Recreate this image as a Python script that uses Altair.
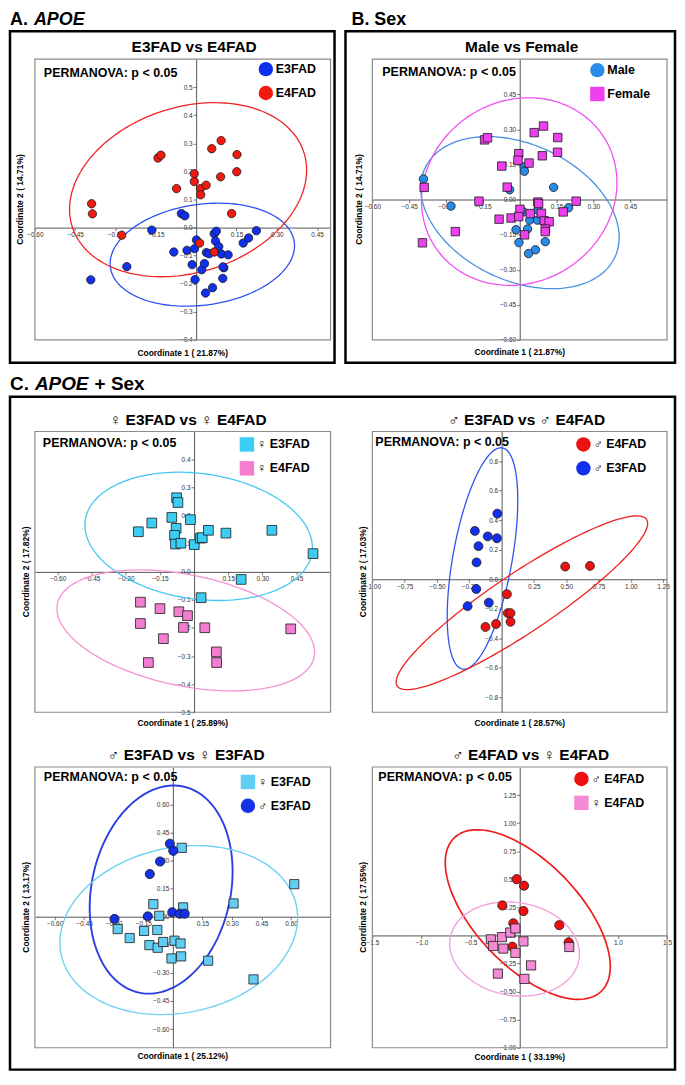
import math
import altair as alt
import pandas as pd

FONT = "Liberation Sans"

# ---------------- Panel A : APOE ----------------
A_E3_X = [-0.392, -0.258, -0.165, -0.083, -0.055, -0.042, -0.034, -0.006, 0.001, -0.015,
          -0.004, 0.021, 0.031, 0.038, 0.048, 0.067, 0.075, 0.072, 0.084, 0.094,
          0.103, 0.100, 0.099, 0.119, 0.035, 0.061, 0.175, 0.195, 0.224]
A_E3_Y = [-0.186, -0.139, -0.009, -0.087, 0.050, 0.042, -0.081, -0.075, -0.044, -0.132,
          -0.185, -0.150, -0.128, -0.089, -0.093, -0.022, -0.013, -0.048, -0.068, -0.094,
          -0.143, -0.140, -0.181, -0.097, -0.233, -0.214, -0.055, -0.037, -0.011]
A_E4_X = [-0.389, -0.386, -0.277, -0.142, -0.131, -0.073, -0.007, -0.007, 0.016, 0.037,
          0.017, 0.058, 0.093, 0.091, 0.152, 0.151, 0.132, 0.013, 0.067]
A_E4_Y = [0.085, 0.049, -0.027, 0.248, 0.258, 0.139, 0.192, 0.164, 0.139, 0.151,
          0.117, 0.281, 0.310, 0.181, 0.260, 0.199, 0.050, -0.055, -0.087]
A_ELL_E3 = [0.023, 0.343, -0.0965, 0.1835, 80]
A_ELL_E4 = [-0.030, 0.441, 0.135, 0.310, 77]

# ---------------- Panel B : Sex ----------------
B_M_X = [-0.392, -0.280, -0.041, 0.018, 0.019, 0.138, 0.199, 0.016, 0.074, 0.041,
         0.072, -0.015, 0.032, -0.003, 0.104, 0.064, 0.036]
B_M_Y = [0.088, -0.028, 0.042, 0.140, 0.121, 0.052, -0.035, -0.053, -0.045, -0.088,
         -0.088, -0.129, -0.126, -0.184, -0.180, -0.215, -0.231]
B_F_X = [-0.396, -0.389, -0.262, -0.166, -0.143, -0.131, -0.073, -0.051, -0.084, -0.035,
         -0.004, -0.007, 0.038, 0.059, 0.097, 0.092, 0.155, 0.154, 0.001, -0.004,
         0.043, 0.074, 0.077, 0.088, 0.100, 0.120, 0.105, 0.104, 0.020, 0.177, 0.230]
B_F_Y = [-0.185, 0.052, -0.137, -0.007, 0.255, 0.264, 0.143, 0.053, -0.084, -0.079,
         0.196, 0.168, 0.156, 0.286, 0.314, 0.187, 0.265, 0.202, -0.042, -0.073,
         -0.060, -0.011, -0.017, -0.059, -0.091, -0.095, -0.126, -0.137, -0.151, -0.053, -0.007]
B_ELL_M = [0.001, 0.404, -0.056, 0.325, 109]
B_ELL_F = [-0.002, 0.398, 0.034, 0.401, 84.5]

# ---------------- Panel C1 : female E3 vs female E4 ----------------
C1_E3_X = [-0.245, -0.186, -0.098, -0.077, -0.071, -0.016, -0.079, -0.086, -0.082, -0.058,
           0.001, 0.028, 0.036, 0.063, 0.140, 0.342, 0.523, 0.207, 0.031]
C1_E3_Y = [0.143, 0.174, 0.194, 0.264, 0.247, 0.186, 0.155, 0.130, 0.099, 0.102,
           0.097, 0.120, 0.122, 0.148, 0.138, 0.148, 0.065, -0.027, -0.092]
C1_E4_X = [-0.236, -0.150, -0.067, -0.029, -0.236, -0.047, 0.047, -0.135, -0.201, 0.098, 0.099, 0.425]
C1_E4_Y = [-0.108, -0.131, -0.142, -0.156, -0.184, -0.198, -0.199, -0.238, -0.323, -0.285, -0.323, -0.203]
C1_ELL_E3 = [0.020, 0.500, 0.1265, 0.2285, 100]
C1_ELL_E4 = [-0.0365, 0.5665, -0.2085, 0.2155, 111]

# ---------------- Panel C2 : male E3 vs male E4 ----------------
C2_E3_X = [-0.033, -0.207, -0.179, -0.107, -0.036, -0.194, -0.196, -0.263, -0.099]
C2_E3_Y = [0.444, 0.327, 0.224, 0.290, 0.277, 0.114, -0.066, -0.182, -0.158]
C2_E4_X = [0.492, 0.684, 0.041, 0.048, 0.069, 0.069, -0.125, -0.043]
C2_E4_Y = [0.086, 0.090, -0.101, -0.229, -0.229, -0.288, -0.323, -0.303]
C2_ELL_E3 = [-0.148, 0.273, 0.1405, 0.7495, 58.4]
C2_ELL_E4 = [0.157, 0.973, -0.159, 0.588, 24]

# ---------------- Panel C3 : male E3 vs female E3 ----------------
C3_M_X = [-0.015, 0.002, -0.065, -0.117, -0.296, -0.127, -0.003, 0.035, 0.060]
C3_M_Y = [0.390, 0.352, 0.295, 0.228, -0.012, 0.002, 0.024, 0.016, 0.016]
C3_F_X = [0.045, 0.616, 0.308, -0.099, -0.069, 0.052, -0.280, -0.219, -0.146, -0.079,
          -0.119, -0.077, -0.049, 0.008, 0.039, -0.007, 0.042, 0.179, 0.409]
C3_F_Y = [0.368, 0.174, 0.071, 0.067, 0.005, 0.050, -0.066, -0.114, -0.076, -0.071,
          -0.152, -0.166, -0.135, -0.128, -0.143, -0.223, -0.212, -0.235, -0.335]
C3_ELL_M = [-0.0595, 0.3625, 0.145, 0.556, 80]
C3_ELL_F = [0.030, 0.603, -0.0715, 0.4515, 81.5]

# ---------------- Panel C4 : male E4 vs female E4 ----------------
C4_M_X = [-0.031, 0.044, -0.177, 0.038, -0.065, 0.403, 0.498, -0.075]
C4_M_Y = [0.501, 0.443, 0.267, 0.217, 0.108, 0.091, -0.062, -0.100]
C4_F_X = [-0.294, -0.181, -0.096, -0.044, -0.270, -0.167, -0.044, 0.038, 0.505, 0.116, -0.222, 0.048]
C4_F_Y = [-0.035, -0.015, 0.026, 0.062, -0.094, -0.117, -0.155, -0.053, -0.103, -0.267, -0.340, -0.387]
C4_ELL_M = [0.082, 0.840, 0.186, 0.755, 127.8]
C4_ELL_F = [-0.0525, 0.6605, -0.1205, 0.4195, 96.4]

ONE = pd.DataFrame({"k": [0]})


def ellipse_frame(p, n=160):
    cx, ax, cy, ay, dd = p
    d = math.radians(dd)
    return pd.DataFrame({
        "x": [cx + ax * math.cos(2 * math.pi * i / n) for i in range(n + 1)],
        "y": [cy + ay * math.cos(2 * math.pi * i / n + d) for i in range(n + 1)],
        "o": list(range(n + 1)),
    })


def txt(s, x, y, size, weight="bold", align="left", angle=0, style="normal",
        baseline="alphabetic", color="black"):
    kw = dict(text=s, align=align, baseline=baseline, font=FONT, fontSize=size,
              fontWeight=weight, color=color, fontStyle=style)
    if angle:
        kw["angle"] = angle
    return alt.Chart(ONE).mark_text(**kw).encode(x=alt.value(x), y=alt.value(y))


def box(x1, x2, y1, y2, color, width):
    return alt.Chart(ONE).mark_rect(fillOpacity=0, stroke=color, strokeWidth=width).encode(
        x=alt.value(x1), x2=alt.value(x2), y=alt.value(y1), y2=alt.value(y2))


def panel(groups, ellipses, xdom, ydom, xticks, yticks, xfmt, yfmt, W, H, cellH,
          title, title_cx, xtitle, xtitle_dy, ytitle, ytitle_x, leg, perm, size, extras):
    labels = [g[0] for g in groups]
    rows = []
    for lab, xs, ys, col, shp in groups:
        for a, b in zip(xs, ys):
            rows.append({"x": a, "y": b, "g": lab})
    df = pd.DataFrame(rows)
    xs_ = alt.Scale(domain=xdom, nice=False, zero=False)
    ys_ = alt.Scale(domain=ydom, nice=False, zero=False, range=[H, 0])
    x0 = W * (0 - xdom[0]) / (xdom[1] - xdom[0])
    y0 = H * (ydom[1] - 0) / (ydom[1] - ydom[0])
    common = dict(title=None, grid=False, labelFont=FONT, labelFontSize=6.5, labelColor="#333",
                  tickColor="#555", tickSize=3, tickWidth=0.8, domainColor="#555", domainWidth=1,
                  labelFlush=False, labelOverlap=False, labelPadding=1)
    xaxis = alt.Axis(values=xticks, format=xfmt, offset=-(cellH - y0), **common)
    yaxis = alt.Axis(values=yticks, format=yfmt, offset=-x0, **common)
    legend = alt.Legend(orient="none", legendX=leg[0], legendY=leg[1], title=None,
                        labelFont=FONT, labelFontSize=12.5, labelFontWeight="bold",
                        labelColor="black", symbolSize=210, symbolStrokeColor="#1a1a1a",
                        symbolStrokeWidth=1, symbolOpacity=1, rowPadding=4, labelOffset=2,
                        padding=0)
    layers = [box(0, W, 0, H, "#8c8c8c", 1.2)]
    for p, col, sw in ellipses:
        layers.append(alt.Chart(ellipse_frame(p)).mark_line(color=col, strokeWidth=sw).encode(
            x=alt.X("x:Q", scale=xs_, axis=xaxis),
            y=alt.Y("y:Q", scale=ys_, axis=yaxis),
            order=alt.Order("o:Q")))
    pts = alt.Chart(df).mark_point(filled=True, opacity=1, stroke="#1a1a1a", strokeWidth=0.8,
                                   size=size).encode(
        x=alt.X("x:Q", scale=xs_, axis=xaxis),
        y=alt.Y("y:Q", scale=ys_, axis=yaxis),
        color=alt.Color("g:N", scale=alt.Scale(domain=labels, range=[g[3] for g in groups]),
                        legend=legend),
        shape=alt.Shape("g:N", scale=alt.Scale(domain=labels, range=[g[4] for g in groups]),
                        legend=legend),
    )
    layers.append(pts)
    layers.append(txt("PERMANOVA: p < 0.05", perm[0], perm[1], 12.5))
    layers.append(txt(title, title_cx, -7, 15.5, align="center"))
    layers.append(txt(xtitle, W / 2, H + xtitle_dy, 8.5, align="center"))
    layers.append(txt(ytitle, ytitle_x, H / 2, 8.5, align="center", angle=270, baseline="middle"))
    layers += extras
    return alt.layer(*layers).properties(width=W, height=cellH)


H1, CELL1 = 282, 319
H2 = 282
WL, WR = 297, 296

pA = panel(
    [("E3FAD", A_E3_X, A_E3_Y, "#1030f0", "circle"), ("E4FAD", A_E4_X, A_E4_Y, "#f01a10", "circle")],
    [(A_ELL_E3, "#2c52f0", 1.3), (A_ELL_E4, "#f02424", 1.3)],
    [-0.6, 0.5], [-0.4, 0.6],
    [-0.6, -0.45, -0.3, -0.15, 0.15, 0.3, 0.45], [0.5, 0.4, 0.3, 0.2, 0.1, 0.0, -0.1, -0.2, -0.3, -0.4],
    ".2f", ".1f", WL, H1, CELL1, "E3FAD vs E4FAD", 160, "Coordinate 1 ( 21.87%)", 16,
    "Coordinate 2 ( 14.71%)", -15, (224, 2), (9, 18), 70,
    [txt("A.", -25, -34, 18), txt("APOE", -1, -34, 18, style="italic"),
     box(-25, 301, -28, 305, "black", 2.5)])

pB = panel(
    [("Male", B_M_X, B_M_Y, "#2a8ae8", "circle"), ("Female", B_F_X, B_F_Y, "#ee3fee", "square")],
    [(B_ELL_M, "#4a8ee0", 1.3), (B_ELL_F, "#f050f0", 1.3)],
    [-0.6, 0.6], [-0.6, 0.6],
    [-0.6, -0.45, -0.3, -0.15, 0.15, 0.3, 0.45], [0.45, 0.3, 0.15, 0.0, -0.15, -0.3, -0.45, -0.6],
    ".2f", ".2f", WR, H1, CELL1, "Male vs Female", 150, "Coordinate 1 ( 21.87%)", 15,
    "Coordinate 2 ( 14.71%)", -13, (218, 3), (10, 17), 72,
    [txt("B. Sex", -21, -34, 18), box(-27, 304, -28, 305, "black", 2.5)])

pC1 = panel(
    [("♀ E3FAD", C1_E3_X, C1_E3_Y, "#3ccdf5", "square"), ("♀ E4FAD", C1_E4_X, C1_E4_Y, "#f47dd2", "square")],
    [(C1_ELL_E3, "#45c8f0", 1.3), (C1_ELL_E4, "#f592d6", 1.3)],
    [-0.7, 0.6], [-0.5, 0.5],
    [-0.6, -0.45, -0.3, -0.15, 0.15, 0.3, 0.45], [0.4, 0.3, 0.2, 0.1, 0.0, -0.1, -0.2, -0.3, -0.4, -0.5],
    ".2f", ".1f", WL, H2, H2, "♀ E3FAD vs ♀ E4FAD", 154, "Coordinate 1 ( 25.89%)", 14,
    "Coordinate 2 ( 17.82%)", -9, (205, 5), (8, 16), 95,
    [txt("C.", -25, -42, 19), txt("APOE", 0, -42, 19, style="italic"), txt("+ Sex", 60, -42, 19),
     box(-25, 643, -35, 641, "black", 2.5)])

pC2 = panel(
    [("♂ E4FAD", C2_E4_X, C2_E4_Y, "#ee1111", "circle"), ("♂ E3FAD", C2_E3_X, C2_E3_Y, "#1230ee", "circle")],
    [(C2_ELL_E3, "#2f55f0", 1.3), (C2_ELL_E4, "#ee2020", 1.3)],
    [-1.0, 1.28], [-0.9, 1.0],
    [-1.0, -0.75, -0.5, -0.25, 0.25, 0.5, 0.75, 1.0, 1.25], [0.8, 0.6, 0.4, 0.2, 0.0, -0.2, -0.4, -0.6, -0.8],
    ".2f", ".1f", WR, H2, H2, "♂ E3FAD vs ♂ E4FAD", 155, "Coordinate 1 ( 28.57%)", 14,
    "Coordinate 2 ( 17.03%)", -9, (204, 5), (3, 15), 80, [])

pC3 = panel(
    [("♀ E3FAD", C3_F_X, C3_F_Y, "#62cdf4", "square"), ("♂ E3FAD", C3_M_X, C3_M_Y, "#1530e6", "circle")],
    [(C3_ELL_M, "#2a3fe0", 1.9), (C3_ELL_F, "#6fd0f5", 1.4)],
    [-0.7, 0.8], [-0.7, 0.8],
    [-0.6, -0.45, -0.3, -0.15, 0.15, 0.3, 0.45, 0.6], [0.6, 0.45, 0.3, 0.15, 0.0, -0.15, -0.3, -0.45, -0.6],
    ".2f", ".2f", WL, H2, H2, "♂ E3FAD vs ♀ E3FAD", 152, "Coordinate 1 ( 25.12%)", 11,
    "Coordinate 2 ( 13.17%)", -9, (206, 7), (9, 14), 85, [])

pC4 = panel(
    [("♂ E4FAD", C4_M_X, C4_M_Y, "#ee1010", "circle"), ("♀ E4FAD", C4_F_X, C4_F_Y, "#f28ad4", "square")],
    [(C4_ELL_M, "#ee1c1c", 1.7), (C4_ELL_F, "#f5a0dc", 1.4)],
    [-1.5, 1.5], [-1.0, 1.5],
    [-1.5, -1.0, -0.5, 0.5, 1.0, 1.5], [1.25, 1.0, 0.75, 0.5, 0.25, 0.0, -0.25, -0.5, -0.75, -1.0],
    ".1f", ".2f", WR, H2, H2, "♂ E4FAD vs ♀ E4FAD", 159, "Coordinate 1 ( 33.19%)", 12,
    "Coordinate 2 ( 17.55%)", -9, (202, 4), (6, 14), 85, [])

chart = alt.concat(pA, pB, pC1, pC2, pC3, pC4, columns=2,
                   spacing={"row": 55, "column": 42}, bounds="flush").resolve_scale(
    x="independent", y="independent", color="independent", shape="independent"
).resolve_legend(color="independent", shape="independent").properties(
    padding=0, background="white"
).configure_view(stroke="transparent")

chart.save("out.html", embed_options={"renderer": "svg", "actions": False})
